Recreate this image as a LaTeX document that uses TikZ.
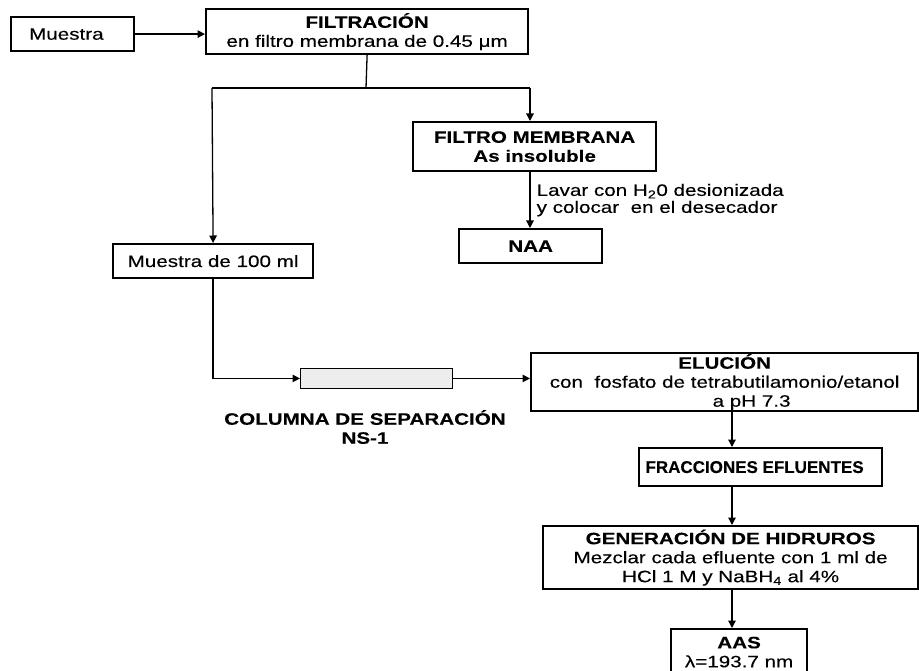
\documentclass[tikz,border=0pt]{standalone}
\usepackage{fontspec}
\setmainfont{Liberation Sans}[FakeStretch=1.25, FakeBold=0.25]
\newfontfamily\narrowfont{Liberation Sans}[FakeBold=0.25]
\usetikzlibrary{arrows.meta}
\begin{document}
\begin{tikzpicture}[x=1pt,y=-1pt,
  every node/.style={font=\fontsize{16.5}{19}\selectfont},
  box/.style={draw, line width=2.2pt, fill=white, anchor=north west, inner sep=0pt, align=center},
  link/.style={line width=1.3pt},
  flow/.style={link, -{Triangle[length=7.5pt,width=7.5pt]}},
  caption/.style={inner sep=0pt, align=center}
]
\useasboundingbox (0,0) rectangle (919,671);

% process boxes, placed by their top-left corner
\node[box, minimum width=123pt, minimum height=34pt, text width=87pt, align=left] (muestra) at (10,16) {Muestra};
\node[box, minimum width=322pt, minimum height=45pt] (filt) at (205,8)
  {\textbf{FILTRACIÓN}\\en filtro membrana de 0.45 μm};
\node[box, minimum width=243pt, minimum height=49pt] (fmem) at (412,121)
  {\textbf{FILTRO MEMBRANA}\\\textbf{As insoluble}};
\node[box, minimum width=143pt, minimum height=34pt] (naa) at (458,228) {\textbf{NAA}};
\node[box, minimum width=200pt, minimum height=34pt] (m100) at (112,243) {Muestra de 100 ml};

% separation column
\node[draw, line width=0.9pt, fill=gray!14, anchor=north west, inner sep=0pt,
      minimum width=152pt, minimum height=20pt] (col) at (300,368) {};
\node[caption] (collbl) at (365,427) {\textbf{COLUMNA DE SEPARACIÓN}\\\textbf{NS-1}};

\node[box, minimum width=387pt, minimum height=58pt] (elu) at (530,352)
  {\textbf{ELUCIÓN}\\con\ \ fosfato de tetrabutilamonio/etanol\\\hspace*{54pt}a pH 7.3};
\node[box, minimum width=243pt, minimum height=38pt, font=\narrowfont\fontsize{17}{19}\selectfont] (frac) at (638,447)
  {\textbf{FRACCIONES EFLUENTES}\hspace*{12pt}};
\node[box, minimum width=375pt, minimum height=63pt] (gen) at (542,525)
  {\textbf{GENERACIÓN DE HIDRUROS}\\Mezclar cada efluente con 1 ml de\\HCl 1 M y NaBH\textsubscript{4} al 4\%};
\node[box, minimum width=136pt, minimum height=46pt] (aas) at (670,628)
  {\textbf{AAS}\\λ=193.7 nm};

% branching after filtration
\coordinate (split) at (366,88);
\coordinate (splitL) at (212,88);
\coordinate (splitR) at (530,88);
\coordinate (rx) at (732,0);

\draw[flow] (muestra.east) -- (muestra.east -| filt.west);
\draw[link] (filt.south) -- (split);
\draw[link] (splitL) -- (splitR);
\draw[flow] (splitL) -- (m100.north);
\draw[flow] (splitR) -- (splitR |- fmem.north);
\draw[flow] (fmem.south -| splitR) -- (naa.north -| splitR)
  node[pos=0.5, right=6pt, inner sep=0pt, align=left,
       font=\fontsize{16.5}{17}\selectfont] (wash)
  {Lavar con H\textsubscript{2}0 desionizada\\y colocar\ \ en el desecador};
\draw[flow] (m100.south) |- (col.west);
\draw[flow] (col.east) -- (col.east -| elu.west);
\draw[flow] (elu.south -| rx) -- (frac.north -| rx);
\draw[flow] (frac.south -| rx) -- (gen.north -| rx);
\draw[flow] (gen.south -| rx) -- (aas.north -| rx);
\end{tikzpicture}
\end{document}
